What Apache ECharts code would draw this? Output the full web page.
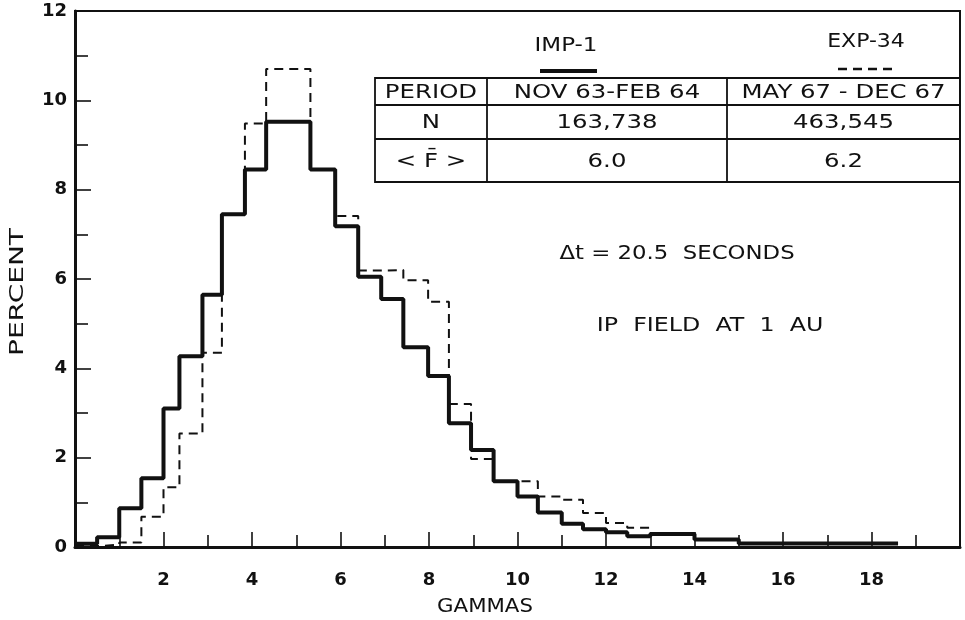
<!DOCTYPE html>
<html>
<head>
<meta charset="utf-8">
<script src="https://cdn.jsdelivr.net/npm/echarts@6/dist/echarts.min.js"></script>
<style>
  html, body { margin: 0; padding: 0; background: #fff; }
  #chart { width: 965px; height: 620px; }
</style>
</head>
<body>
<div id="chart"></div>
<script>
// bin edges (gammas), shared by both histograms
var binEdges = [0, 0.5, 1, 1.5, 2, 2.36, 2.88, 3.32, 3.84, 4.32, 5.32, 5.88, 6.4, 6.92,
  7.42, 7.98, 8.45, 8.95, 9.46, 10, 10.46, 11, 11.48, 12, 12.48, 13, 14, 15, 18.6];

// percent per bin
var imp1Percent = [0.07, 0.22, 0.87, 1.54, 3.1, 4.27, 5.65, 7.45, 8.45, 9.52, 8.45, 7.18, 6.05, 5.55,
  4.47, 3.83, 2.77, 2.17, 1.47, 1.13, 0.77, 0.52, 0.4, 0.33, 0.24, 0.29, 0.17, 0.08];
var exp34Percent = [0.02, 0.05, 0.1, 0.68, 1.34, 2.54, 4.35, 7.45, 9.48, 10.7, 8.45, 7.41, 6.19, 6.2,
  5.97, 5.49, 3.2, 1.97, 1.47, 1.47, 1.13, 1.06, 0.76, 0.54, 0.43, 0.31, 0.17];

var xTickLabels = [2, 4, 6, 8, 10, 12, 14, 16, 18];

var tableRows = [
  ['PERIOD', 'NOV 63-FEB 64', 'MAY 67 - DEC 67'],
  ['N', '163,738', '463,545'],
  ['< F\u0304 >', '6.0', '6.2']
];

function stepData(values) {
  var d = [];
  for (var i = 0; i < values.length; i++) {
    d.push([binEdges[i], values[i]]);
  }
  d.push([binEdges[values.length], values[values.length - 1]]);
  return d;
}

var font = 'DejaVu Sans';
var ink = '#111';

// lettering is wider than the screen font, so stretch it a bit
function label(txt, x, y, size, stretch, extra) {
  var g = {
    type: 'text', x: x, y: y, scaleX: stretch,
    style: { text: txt, fill: ink, font: size + 'px ' + font, align: 'center', verticalAlign: 'middle' }
  };
  return Object.assign(g, extra || {});
}

// table layout (pixels)
var colX = [375, 487, 727, 960];
var rowY = [78, 105, 139, 182];
var tableGraphics = [];
tableGraphics.push({
  type: 'rect', shape: { x: colX[0], y: rowY[0], width: colX[3] - colX[0], height: rowY[3] - rowY[0] },
  style: { fill: 'none', stroke: ink, lineWidth: 1.8 }
});
[rowY[1], rowY[2]].forEach(function (y) {
  tableGraphics.push({ type: 'line', shape: { x1: colX[0], y1: y, x2: colX[3], y2: y }, style: { stroke: ink, lineWidth: 1.8 } });
});
[colX[1], colX[2]].forEach(function (x) {
  tableGraphics.push({ type: 'line', shape: { x1: x, y1: rowY[0], x2: x, y2: rowY[3] }, style: { stroke: ink, lineWidth: 1.8 } });
});
tableRows.forEach(function (row, r) {
  row.forEach(function (txt, c) {
    tableGraphics.push(label(txt, (colX[c] + colX[c + 1]) / 2, (rowY[r] + rowY[r + 1]) / 2 + 1, 20, 1.22));
  });
});

var chart = echarts.init(document.getElementById('chart'));
var option = {
  animation: false,
  backgroundColor: '#fff',
  grid: { left: 75, right: 5, top: 11, bottom: 73, show: true, borderColor: ink, borderWidth: 2 },
  xAxis: {
    type: 'value', min: 0, max: 20, interval: 2,
    axisLine: { lineStyle: { color: ink, width: 3 } },
    axisTick: { inside: true, length: 15, lineStyle: { color: ink, width: 1.6 } },
    minorTick: { show: true, splitNumber: 2, length: 12, lineStyle: { color: ink, width: 1.6 } },
    splitLine: { show: false },
    axisLabel: {
      margin: 24, color: ink, fontSize: 18, fontWeight: 'bold', fontFamily: font,
      formatter: function (v) { return xTickLabels.indexOf(v) >= 0 ? String(v) : ''; }
    }
  },
  yAxis: {
    type: 'value', min: 0, max: 12, interval: 2,
    axisLine: { lineStyle: { color: ink, width: 3 } },
    axisTick: { inside: true, length: 16, lineStyle: { color: ink, width: 1.6 } },
    minorTick: { show: true, splitNumber: 2, length: 13, lineStyle: { color: ink, width: 1.6 } },
    splitLine: { show: false },
    axisLabel: { margin: 8, color: ink, fontSize: 18, fontWeight: 'bold', fontFamily: font }
  },
  series: [
    {
      name: 'EXP-34', type: 'line', step: 'end', showSymbol: false, symbol: 'none',
      data: stepData(exp34Percent),
      lineStyle: { color: ink, width: 2, type: [9, 6] }
    },
    {
      name: 'IMP-1', type: 'line', step: 'end', showSymbol: false, symbol: 'none',
      data: stepData(imp1Percent),
      lineStyle: { color: ink, width: 4 }
    }
  ],
  graphic: tableGraphics.concat([
    label('PERCENT', 18, 292, 20, 1.4, { rotation: Math.PI / 2 }),
    label('GAMMAS', 485, 607, 19, 1.12),
    label('IMP-1', 566, 46, 20, 1.15),
    { type: 'line', shape: { x1: 540, y1: 71, x2: 597, y2: 71 }, style: { stroke: ink, lineWidth: 4 } },
    label('EXP-34', 866, 42, 20, 1.1),
    { type: 'line', shape: { x1: 838, y1: 69, x2: 895, y2: 69 }, style: { stroke: ink, lineWidth: 2.5, lineDash: [9, 6] } },
    label('\u0394t = 20.5  SECONDS', 677, 254, 19, 1.2),
    label('IP  FIELD  AT  1  AU', 710, 326, 19, 1.25)
  ])
};
chart.setOption(option);
</script>
</body>
</html>
